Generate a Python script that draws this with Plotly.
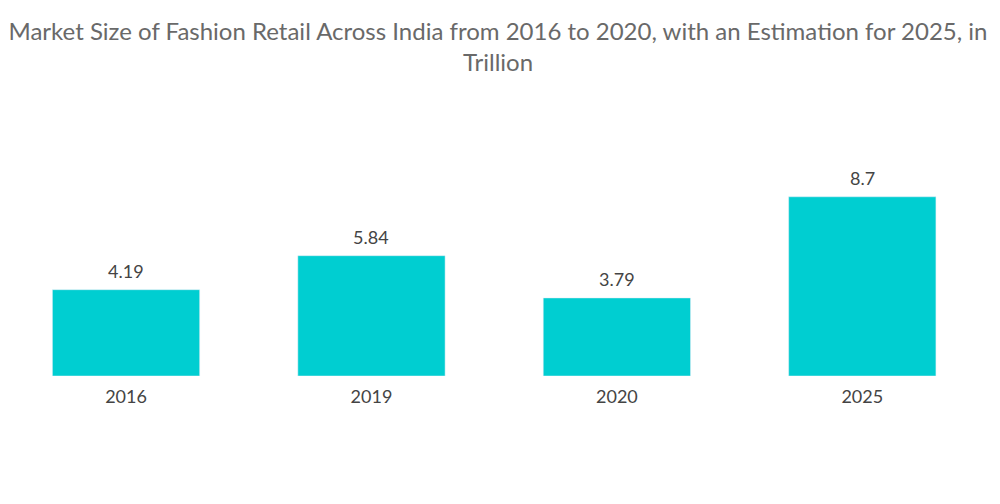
import plotly.graph_objects as go

years = ["2016", "2019", "2020", "2025"]
market_size = [4.19, 5.84, 3.79, 8.7]
value_labels = ["4.19", "5.84", "3.79", "8.7"]

fig = go.Figure()
fig.add_trace(go.Bar(
    x=years,
    y=market_size,
    marker=dict(color="#00CED1"),
    hoverinfo="x+y",
))

# value labels sit a little higher above the bars than plotly's outside text
# (numeric-looking category names get read as indices, so use the index)
for i, (val, lab) in enumerate(zip(market_size, value_labels)):
    fig.add_annotation(
        x=i, y=val, text=lab,
        showarrow=False,
        yanchor="bottom",
        yshift=6,
        font=dict(family="Lato", size=18, color="#444444"),
    )

# page body has an 8px margin, so margins below are shifted to compensate
fig.update_layout(
    width=1000,
    height=504,
    paper_bgcolor="white",
    plot_bgcolor="white",
    margin=dict(l=0, r=23, t=162, b=136),
    bargap=0.4,
    showlegend=False,
    title=dict(
        text="Market Size of Fashion Retail Across India from 2016 to 2020, with an Estimation for 2025, in<br>Trillion",
        x=0.49,
        xanchor="center",
        y=0.937,
        yanchor="top",
        font=dict(family="Lato", size=24, color="#696969"),
    ),
    xaxis=dict(
        type="category",
        range=[-0.481, 3.5],
        showline=False,
        showgrid=False,
        ticks="outside",
        ticklen=4,
        tickcolor="white",
        tickfont=dict(family="Lato", size=18, color="#444444"),
    ),
    yaxis=dict(
        range=[0, 10],
        visible=False,
        showgrid=False,
        zeroline=False,
    ),
)

fig.write_html("out.html")
